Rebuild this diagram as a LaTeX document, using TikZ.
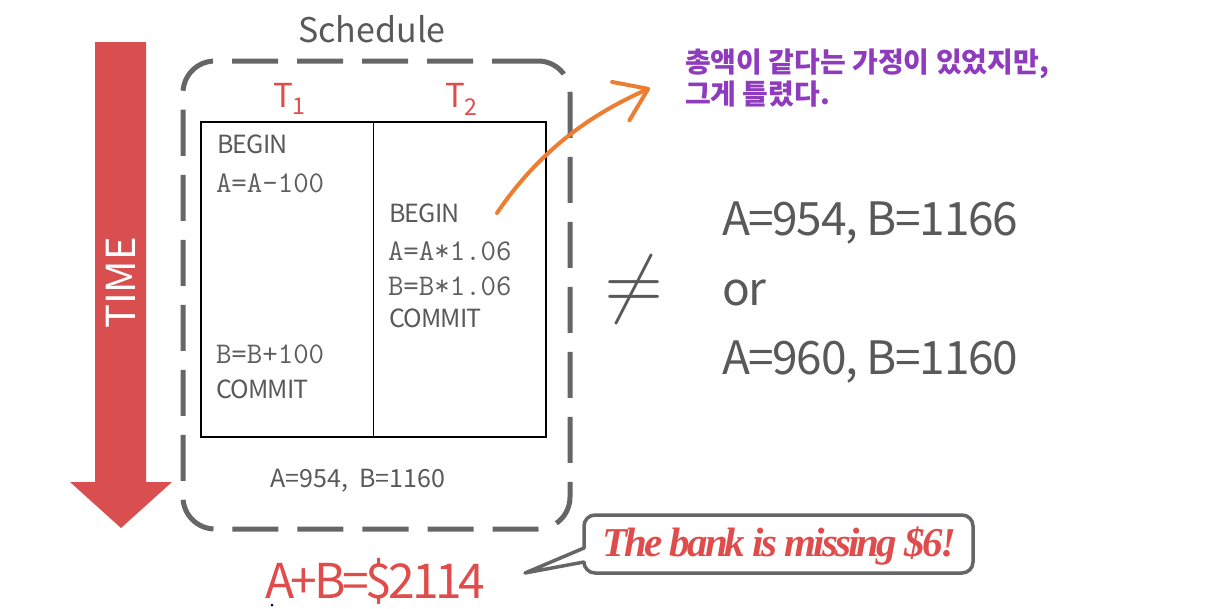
\documentclass[tikz,border=0pt]{standalone}
\usepackage{fontspec}
\usetikzlibrary{arrows.meta}
\newfontfamily\sansf{Noto Sans CJK KR}
\newfontfamily\sanstight{Noto Sans CJK KR}[LetterSpace=-3]
\newfontfamily\sumf{Noto Sans CJK KR}[LetterSpace=-7]
\newfontfamily\bubblef{Liberation Serif}[LetterSpace=-7]
\definecolor{tred}{HTML}{D94F4F}
\definecolor{txred}{HTML}{E04B4B}
\definecolor{tgray}{HTML}{595959}
\definecolor{dgray}{HTML}{666666}
\definecolor{cgray}{HTML}{5E5E5E}
\definecolor{kpurple}{HTML}{8E3BBE}
\definecolor{aorange}{HTML}{ED7D31}
\tikzset{
  txt/.style={inner sep=0pt, outer sep=0pt},
  kw/.style={txt, anchor=base west, text=tgray, font=\sanstight\fontsize{25}{30}\selectfont},
  codeline/.style={txt, anchor=base west, text=cgray, font=\ttfamily\fontsize{30}{34}\selectfont},
  tlabel/.style={txt, anchor=base west, text=txred, font=\sansf\fontsize{33}{38}\selectfont},
  result/.style={txt, anchor=base west, text=tgray, font=\sanstight\fontsize{46}{52}\selectfont},
  korean/.style={txt, anchor=base west, text=kpurple, font=\sansf\bfseries\fontsize{28}{32}\selectfont},
  schedbox/.style={draw=dgray, line width=5pt, rounded corners=32pt, dash pattern=on 46pt off 19pt, minimum width=387pt, minimum height=468pt, inner sep=0pt},
  tablebox/.style={draw=black, line width=1.5pt, minimum width=345pt, minimum height=315pt, inner sep=0pt},
  orangearrow/.style={draw=aorange, line width=4pt, line cap=round, -{Straight Barb[length=30pt, width=42pt, line cap=round, line join=round]}},
  bubble/.style={draw=dgray, line width=3.5pt, fill=white, line join=round},
}
\begin{document}
\begin{tikzpicture}[x=1pt, y=-1pt]
\useasboundingbox (0,0) rectangle (1226,608);
% time arrow
\fill[tred] (95,42) -- (146,42) -- (146,482) -- (172,482) -- (121,528) -- (70,482) -- (95,482) -- cycle;
\node[txt, rotate=90, text=white, font=\sansf\fontsize{40}{44}\selectfont] (time) at (121,283) {TIME};
% schedule box
\node[schedbox] (sched) at (376.5,295) {};
\node[txt, anchor=base, text=tgray, font=\sansf\fontsize{34}{40}\selectfont] (schedlbl) at (372,42) {Schedule};
\node[tlabel] (t1) at (273,107) {T\textsubscript{1}};
\node[tlabel] (t2) at (445,107) {T\textsubscript{2}};
\node[tablebox] (table) at (373.5,279.5) {};
\draw[line width=1.5pt] (table.north) -- (table.south);
% T1
\node[kw] (b1) at (217,153) {BEGIN};
\node[codeline] (c1) at (216,192) {A=A-100};
\node[codeline] (c2) at (216,363) {B=B+100};
\node[kw] (m1) at (216,398) {COMMIT};
% T2
\node[kw] (b2) at (389,222) {BEGIN};
\node[codeline] (c3) at (388,260) {A=A*1.06};
\node[codeline] (c4) at (388,295) {B=B*1.06};
\node[kw] (m2) at (389,327) {COMMIT};
\node[txt, anchor=base, text=tgray, font=\sansf\fontsize{25}{30}\selectfont] (res) at (358,487) {A=954,\ \ B=1160};
% neq
\node[txt, text=tgray] (neq) at (634,289) {\scalebox{7.6}{$\neq$}};
% right results
\node[result] (r1) at (722,235) {A=954, B=1166};
\node[result] (r2) at (722,305) {or};
\node[result] (r3) at (722,374) {A=960, B=1160};
% korean
\node[korean] (k1) at (685,72) {총액이 같다는 가정이 있었지만,};
\node[korean] (k2) at (685,104) {그게 틀렸다.};
% orange arrow
\coordinate (arrS) at (497,213);
\coordinate (arrE) at (650,88);
\draw[orangearrow] (arrS) .. controls (540,150) and (590,115) .. (arrE);
% sum
\node[txt, anchor=base west, text=txred, font=\sumf\fontsize{48}{52}\selectfont] (sum) at (265,598) {A+B=\$2114};
\fill[black!70!blue] (272,605) circle (1.5pt);
% bubble
\coordinate (tip) at (525,573);
\draw[bubble] (584,548) [rounded corners=11pt] -- (584,515) -- (973,515) -- (973,573) -- (584,573) [sharp corners] -- (584,562) -- (tip) -- cycle;
\node[txt, text=txred, font=\bubblef\bfseries\itshape\fontsize{41}{44}\selectfont] (bub) at (779,546) {The bank is missing \$6!};
\end{tikzpicture}
\end{document}
